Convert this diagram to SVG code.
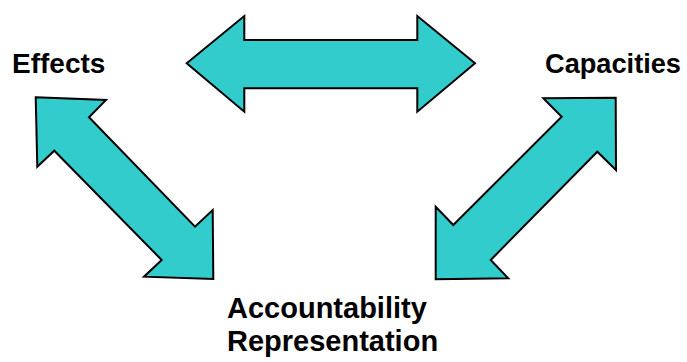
<svg xmlns="http://www.w3.org/2000/svg" width="687" height="362" viewBox="0 0 687 362">
<style>
.arrow{fill:#33CCCC;stroke:#000;stroke-width:2;stroke-linejoin:miter}
.lbl{font-family:"Liberation Sans",Arial,sans-serif;font-weight:bold;font-size:28px;fill:#000}
.big{font-size:29px}
</style>
<rect width="687" height="362" fill="#fff"/>
<g id="connectors">
<polygon id="arrow-top" class="arrow" points="186.7,63.3 244.3,16 244.3,40 417.3,40 417.3,16 475,63.3 417.3,111.7 417.3,88.3 244.3,88.3 244.3,111.7"/>
<polygon id="arrow-left" class="arrow" points="35.7,97.3 106,100 89,117.3 195,226.7 212.7,210 213.3,279 144,276.7 161.7,260 54.3,150.7 37.3,166.7"/>
<polygon id="arrow-right" class="arrow" points="615.7,97.7 616,170 597.3,151.7 490.7,260 508.3,278.3 435.7,279.3 435.7,206.7 453.3,225 561.7,116.7 543.3,98.3"/>
</g>
<g id="effects"><text class="lbl" x="12" y="73">Effects</text></g>
<g id="capacities"><text class="lbl" x="545" y="73" textLength="136" lengthAdjust="spacingAndGlyphs">Capacities</text></g>
<g id="accountability"><text class="lbl big" x="227" y="318">Accountability</text><text class="lbl big" x="227" y="351">Representation</text></g>
</svg>
